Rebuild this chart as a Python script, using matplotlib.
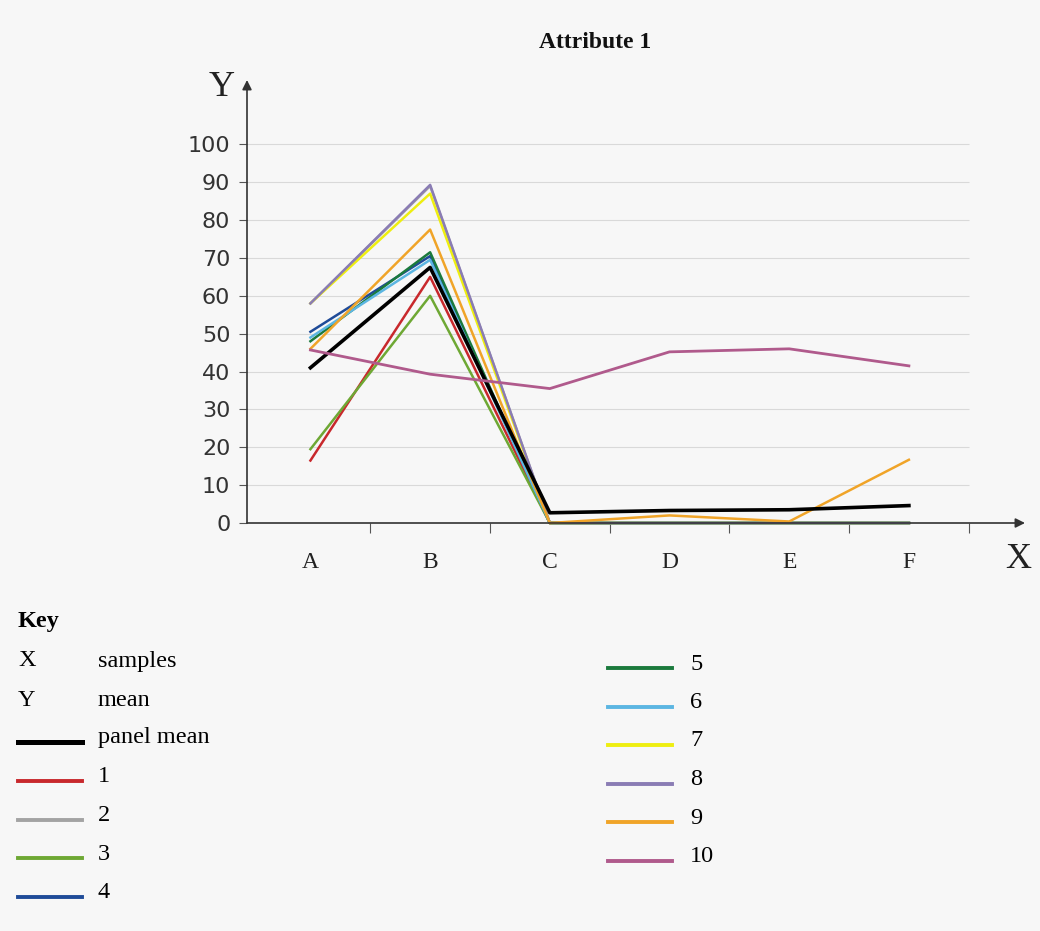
import matplotlib.pyplot as plt
from matplotlib.lines import Line2D

# data
categories = ['A', 'B', 'C', 'D', 'E', 'F']
panel_mean = [41, 67.5, 2.7, 3.3, 3.5, 4.6]
s1 = [16.5, 65, 0, 0, 0, 0]
s2 = [58, 89, 0, 0, 0, 0]
s3 = [19.5, 60, 0, 0, 0, 0]
s4 = [50.5, 70.5, 0, 0, 0, 0]
s5 = [48, 71.5, 0, 0, 0, 0]
s6 = [49, 69.5, 0, 0, 0, 0]
s7 = [58, 87, 0, 0, 0, 0]
s8 = [58, 89.3, 0, 0, 0, 0]
s9 = [46, 77.5, 0, 2, 0.4, 16.7]
s10 = [45.7, 39.3, 35.5, 45.2, 46, 41.5]

series = [s1, s2, s3, s4, s5, s6, s7, s8, s9, s10]
names = ['1', '2', '3', '4', '5', '6', '7', '8', '9', '10']
colors = ['#c8282c', '#a3a3a3', '#6ea834', '#1f4b98', '#1b7a3c',
          '#5cb6e2', '#eeee10', '#8a7cb4', '#f0a428', '#b05a8c']

bg = '#f7f7f7'
serif = 'Liberation Serif'
sans = 'DejaVu Sans'

fig = plt.figure(figsize=(10.4, 9.31), dpi=100, facecolor=bg)
ax = fig.add_axes([247/1040, (931-523)/931, 778/1040, 443/931])
ax.set_facecolor(bg)
ax.set_xlim(-0.53, 5.97)
ax.set_ylim(0, 117)

x = range(len(categories))
for i in range(9):
    ax.plot(x, series[i], color=colors[i], lw=1.8, clip_on=False)
ax.plot(x, panel_mean, color='black', lw=2.6, clip_on=False)
ax.plot(x, s10, color=colors[9], lw=2.0, clip_on=False)

# grid
yt = list(range(0, 101, 10))
ax.hlines(yt[1:], -0.53, 5.5, color='#d9d9d9', lw=0.8, zorder=0)

for s in ax.spines.values():
    s.set_visible(False)

# axis arrows
ax.annotate('', xy=(1, 0), xytext=(0, 0), xycoords='axes fraction',
            arrowprops=dict(arrowstyle='-|>', color='#333333', lw=1.2,
                            mutation_scale=14, shrinkA=0, shrinkB=0))
ax.annotate('', xy=(0, 1), xytext=(0, 0), xycoords='axes fraction',
            arrowprops=dict(arrowstyle='-|>', color='#333333', lw=1.2,
                            mutation_scale=14, shrinkA=0, shrinkB=0))

ax.set_yticks(yt)
ax.set_yticklabels([str(v) for v in yt], fontfamily=sans, fontsize=16, color='#333333')
ax.tick_params(axis='y', length=6, width=0.8, color='#555555', pad=6)

ax.set_xticks(list(x))
ax.set_xticklabels(categories, fontfamily=serif, fontsize=17, color='#222222')
ax.tick_params(axis='x', which='major', length=0, pad=21)
ax.set_xticks([i - 0.5 for i in range(1, 7)], minor=True)
ax.tick_params(axis='x', which='minor', length=7, width=0.8, color='#555555')

fig.text(222/1040, 1 - 88/931, 'Y', fontfamily=serif, fontsize=26, ha='center', va='center', color='#222222')
fig.text(1018/1040, 1 - 560/931, 'X', fontfamily=serif, fontsize=26, ha='center', va='center', color='#222222')
fig.text(595/1040, 1 - 42/931, 'Attribute 1', fontfamily=serif, fontweight='bold', fontsize=17,
         ha='center', va='center', color='#111111')

# key
def ytop(py):
    return 1 - py/931

fs = 17.5
fig.text(18/1040, ytop(622), 'Key', fontfamily=serif, fontweight='bold', fontsize=fs, va='center')
fig.text(18/1040, ytop(661), 'X', fontfamily=serif, fontsize=fs, va='center')
fig.text(98/1040, ytop(661), 'samples', fontfamily=serif, fontsize=fs, va='center')
fig.text(18/1040, ytop(700), 'Y', fontfamily=serif, fontsize=fs, va='center')
fig.text(98/1040, ytop(700), 'mean', fontfamily=serif, fontsize=fs, va='center')

left_rows = [('panel mean', 'black', 738)] + [(names[i], colors[i], 777 + 38.5*i) for i in range(4)]
right_rows = [(names[i], colors[i], 664 + 38.5*(i-4)) for i in range(4, 10)]

for label, c, py in left_rows:
    lw = 3.6 if c == 'black' else 2.8
    fig.add_artist(Line2D([18/1040, 82/1040], [ytop(py+4), ytop(py+4)], color=c, lw=lw))
    fig.text(98/1040, ytop(py), label, fontfamily=serif, fontsize=fs, va='center')
for label, c, py in right_rows:
    fig.add_artist(Line2D([608/1040, 672/1040], [ytop(py+4), ytop(py+4)], color=c, lw=2.8))
    fig.text(690/1040, ytop(py), label, fontfamily=serif, fontsize=fs, va='center')

fig.savefig('out.png', dpi=100, facecolor=bg)
